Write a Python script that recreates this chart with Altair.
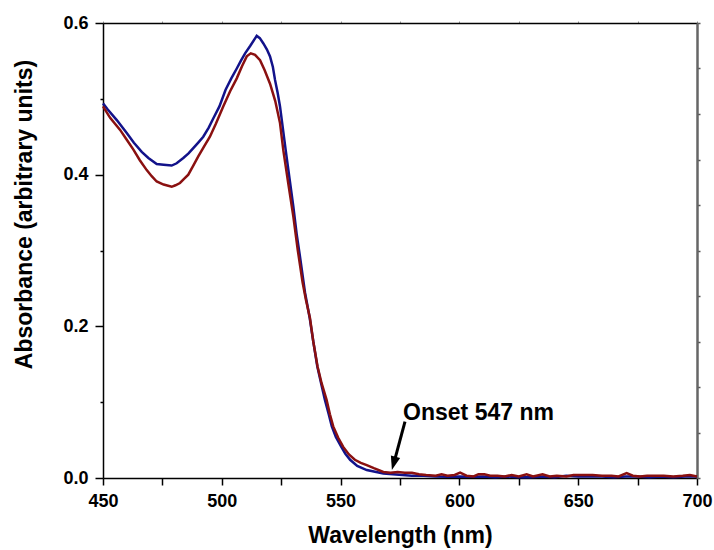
import altair as alt
import pandas as pd

# ---- data ----
blue_wl = [450, 452, 455.8, 460, 463, 466.3, 469.1, 472.6, 475.5, 478.9, 481, 483.8, 486, 488, 490,
           492.2, 494.5, 496.4, 499, 501.6, 504, 506.3, 508, 509.8, 512, 514.7, 516, 517.5, 519, 520.3,
           521.5, 522.4, 523.5, 524.5, 526.9, 528.5, 530.1, 531.5, 533, 535, 537, 538.5, 540.2, 542,
           543.4, 545, 546.3, 548, 550.3, 552, 554, 557, 561, 565, 568, 572, 576, 580, 585, 590, 595,
           600, 605, 610, 615, 620, 625, 630, 635, 640, 645, 650, 655, 660, 665, 670, 675, 680, 685,
           690, 695, 700]
blue_abs = [0.494, 0.486, 0.472, 0.455, 0.442, 0.430, 0.422, 0.414, 0.413, 0.412, 0.415, 0.422, 0.428,
            0.435, 0.442, 0.450, 0.462, 0.474, 0.490, 0.512, 0.527, 0.540, 0.550, 0.560, 0.570, 0.583,
            0.580, 0.573, 0.565, 0.556, 0.542, 0.525, 0.508, 0.490, 0.432, 0.395, 0.358, 0.322, 0.290,
            0.245, 0.211, 0.180, 0.147, 0.122, 0.103, 0.084, 0.068, 0.054, 0.041, 0.032, 0.024, 0.016,
            0.0105, 0.008, 0.006, 0.005, 0.004, 0.003, 0.003, 0.002, 0.0015, 0.002, 0.0015, 0.002,
            0.001, 0.002, 0.001, 0.001, 0.002, 0.001, 0.003, 0.002, 0.002, 0.002, 0.001, 0.002, 0.002,
            0.001, 0.002, 0.001, 0.002, 0.002]

red_wl = [450, 453, 457.2, 460, 462.8, 465.5, 468.4, 470.5, 472.6, 475.5, 478.9, 480.5, 482.4, 484,
          485.9, 488, 490.1, 492.5, 495, 497.5, 500.6, 503.5, 506.3, 508.5, 510.5, 512.2, 514, 516.1,
          518, 520.3, 522.5, 524.5, 525.9, 528, 530.1, 532, 534, 535.4, 537.1, 538.5, 540.3, 542,
          544.1, 545.5, 546.9, 549, 551.1, 553.5, 556, 558.5, 561, 564, 568, 571, 574, 577, 580, 583,
          586, 590, 592.5, 595, 598, 600.3, 603, 606, 608, 610.5, 613, 616, 619, 622, 625, 628.3, 631,
          635, 638, 641, 645, 648, 652, 656, 660, 664, 667, 670.4, 673, 676, 679, 682, 686, 690, 694,
          697, 700]
red_abs = [0.490, 0.475, 0.459, 0.446, 0.433, 0.419, 0.406, 0.398, 0.391, 0.387, 0.384, 0.386, 0.389,
           0.394, 0.400, 0.412, 0.424, 0.437, 0.450, 0.467, 0.490, 0.510, 0.527, 0.543, 0.556, 0.560,
           0.558, 0.551, 0.538, 0.520, 0.497, 0.468, 0.432, 0.388, 0.345, 0.300, 0.258, 0.235, 0.211,
           0.180, 0.147, 0.125, 0.103, 0.084, 0.068, 0.053, 0.041, 0.031, 0.024, 0.020, 0.017, 0.013,
           0.008, 0.007, 0.008, 0.007, 0.007, 0.005, 0.004, 0.003, 0.005, 0.003, 0.004, 0.007, 0.003,
           0.002, 0.005, 0.005, 0.003, 0.003, 0.002, 0.004, 0.002, 0.005, 0.002, 0.005, 0.002, 0.003,
           0.002, 0.004, 0.004, 0.004, 0.003, 0.003, 0.002, 0.0065, 0.003, 0.002, 0.003, 0.003, 0.003,
           0.002, 0.003, 0.004, 0.002]

x_major = [450, 475, 500, 525, 550, 575, 600, 625, 650, 675, 700]
y_major = [0.0, 0.2, 0.4, 0.6]
y_minor = [0.1, 0.3, 0.5]
y_right = [0.0, 0.06, 0.12, 0.18, 0.24, 0.30, 0.36, 0.42, 0.48, 0.54, 0.6]

# annotation (data coordinates)
note_text = ["Onset 547 nm"]
note_x = [576.3]
note_y = [0.0771]
arrow_start = [577.1, 0.0742]
arrow_end = [572.5, 0.0207]
arrow_tip = [571.6, 0.0105]

FONT = "Liberation Sans"
BLUE = "#12128a"
RED = "#8a1010"

blue_df = pd.DataFrame({"wl": blue_wl, "abs": blue_abs})
red_df = pd.DataFrame({"wl": red_wl, "abs": red_abs})
shaft_df = pd.DataFrame({"x": [arrow_start[0]], "y": [arrow_start[1]],
                         "x2": [arrow_end[0]], "y2": [arrow_end[1]]})
tip_df = pd.DataFrame({"x": [arrow_tip[0]], "y": [arrow_tip[1]]})
text_df = pd.DataFrame({"x": note_x, "y": note_y, "t": note_text})

xs = alt.Scale(domain=[450, 700], nice=False, zero=False)
ys = alt.Scale(domain=[0, 0.6], nice=False, zero=False)

x_bottom = alt.Axis(orient="bottom", values=x_major, grid=False, tickSize=7, tickWidth=1.5,
                    tickColor="black", domainColor="black", domainWidth=1.5,
                    labelExpr="datum.value % 50 == 0 ? datum.label : ''",
                    labelFont=FONT, labelFontSize=18, labelFontWeight="bold", labelColor="black",
                    labelPadding=7, labelFlush=False,
                    title="Wavelength (nm)", titleFont=FONT, titleFontSize=23,
                    titleFontWeight="bold", titleColor="black", titlePadding=14)
y_left = alt.Axis(orient="left", values=y_major, grid=False, tickSize=8, tickWidth=1.5,
                  tickColor="black", domainColor="black", domainWidth=1.5, format=".1f",
                  labelFont=FONT, labelFontSize=18, labelFontWeight="bold", labelColor="black",
                  labelPadding=7, labelFlush=False,
                  title="Absorbance (arbitrary units)", titleFont=FONT, titleFontSize=23,
                  titleFontWeight="bold", titleColor="black", titleAngle=270,
                  titleX=-79, titleY=191, titleAlign="center", titleBaseline="middle")
y_left_minor = alt.Axis(orient="left", values=y_minor, grid=False, tickSize=3, tickWidth=1.5,
                        tickColor="black", domain=False, labels=False, title=None)
x_top = alt.Axis(orient="top", values=x_major, grid=False, tickSize=2, tickWidth=1,
                 tickColor="#999999", domainColor="black", domainWidth=1.5, labels=False, title=None)
y_right_ax = alt.Axis(orient="right", values=y_right, grid=False, tickSize=3, tickWidth=1.5,
                      tickColor="#555555", domainColor="#666666", domainWidth=2.5,
                      labels=False, title=None)

blue = alt.Chart(blue_df).mark_line(color=BLUE, strokeWidth=2.5).encode(
    x=alt.X("wl:Q", scale=xs, axis=x_bottom),
    y=alt.Y("abs:Q", scale=ys, axis=y_left),
)
red = alt.Chart(red_df).mark_line(color=RED, strokeWidth=2.5).encode(
    x=alt.X("wl:Q", scale=xs, axis=x_top),
    y=alt.Y("abs:Q", scale=ys, axis=y_right_ax),
)
shaft = alt.Chart(shaft_df).mark_rule(color="black", strokeWidth=3).encode(
    x=alt.X("x:Q", scale=xs, axis=None),
    y=alt.Y("y:Q", scale=ys, axis=y_left_minor),
    x2="x2:Q", y2="y2:Q",
)
tip = alt.Chart(tip_df).mark_point(
    shape="M0,0 L-0.45,-1.3 L0.45,-1.3 Z", size=450, filled=True, color="black",
    opacity=1, angle=15, strokeWidth=0,
).encode(
    x=alt.X("x:Q", scale=xs, axis=None),
    y=alt.Y("y:Q", scale=ys, axis=None),
)
label = alt.Chart(text_df).mark_text(
    align="left", baseline="alphabetic", font=FONT, fontSize=23, fontWeight="bold", color="black"
).encode(
    x=alt.X("x:Q", scale=xs, axis=None),
    y=alt.Y("y:Q", scale=ys, axis=None),
    text="t:N",
)

chart = alt.layer(blue, red, shaft, tip, label).resolve_axis(
    x="independent", y="independent"
).properties(
    width=594, height=455,
    autosize=alt.AutoSizeParams(type="none"),
    padding={"left": 103, "top": 23, "right": 17, "bottom": 72},
    background="white",
).configure_view(stroke=None)

chart.save("out.html", embed_options={"renderer": "svg", "actions": False})
